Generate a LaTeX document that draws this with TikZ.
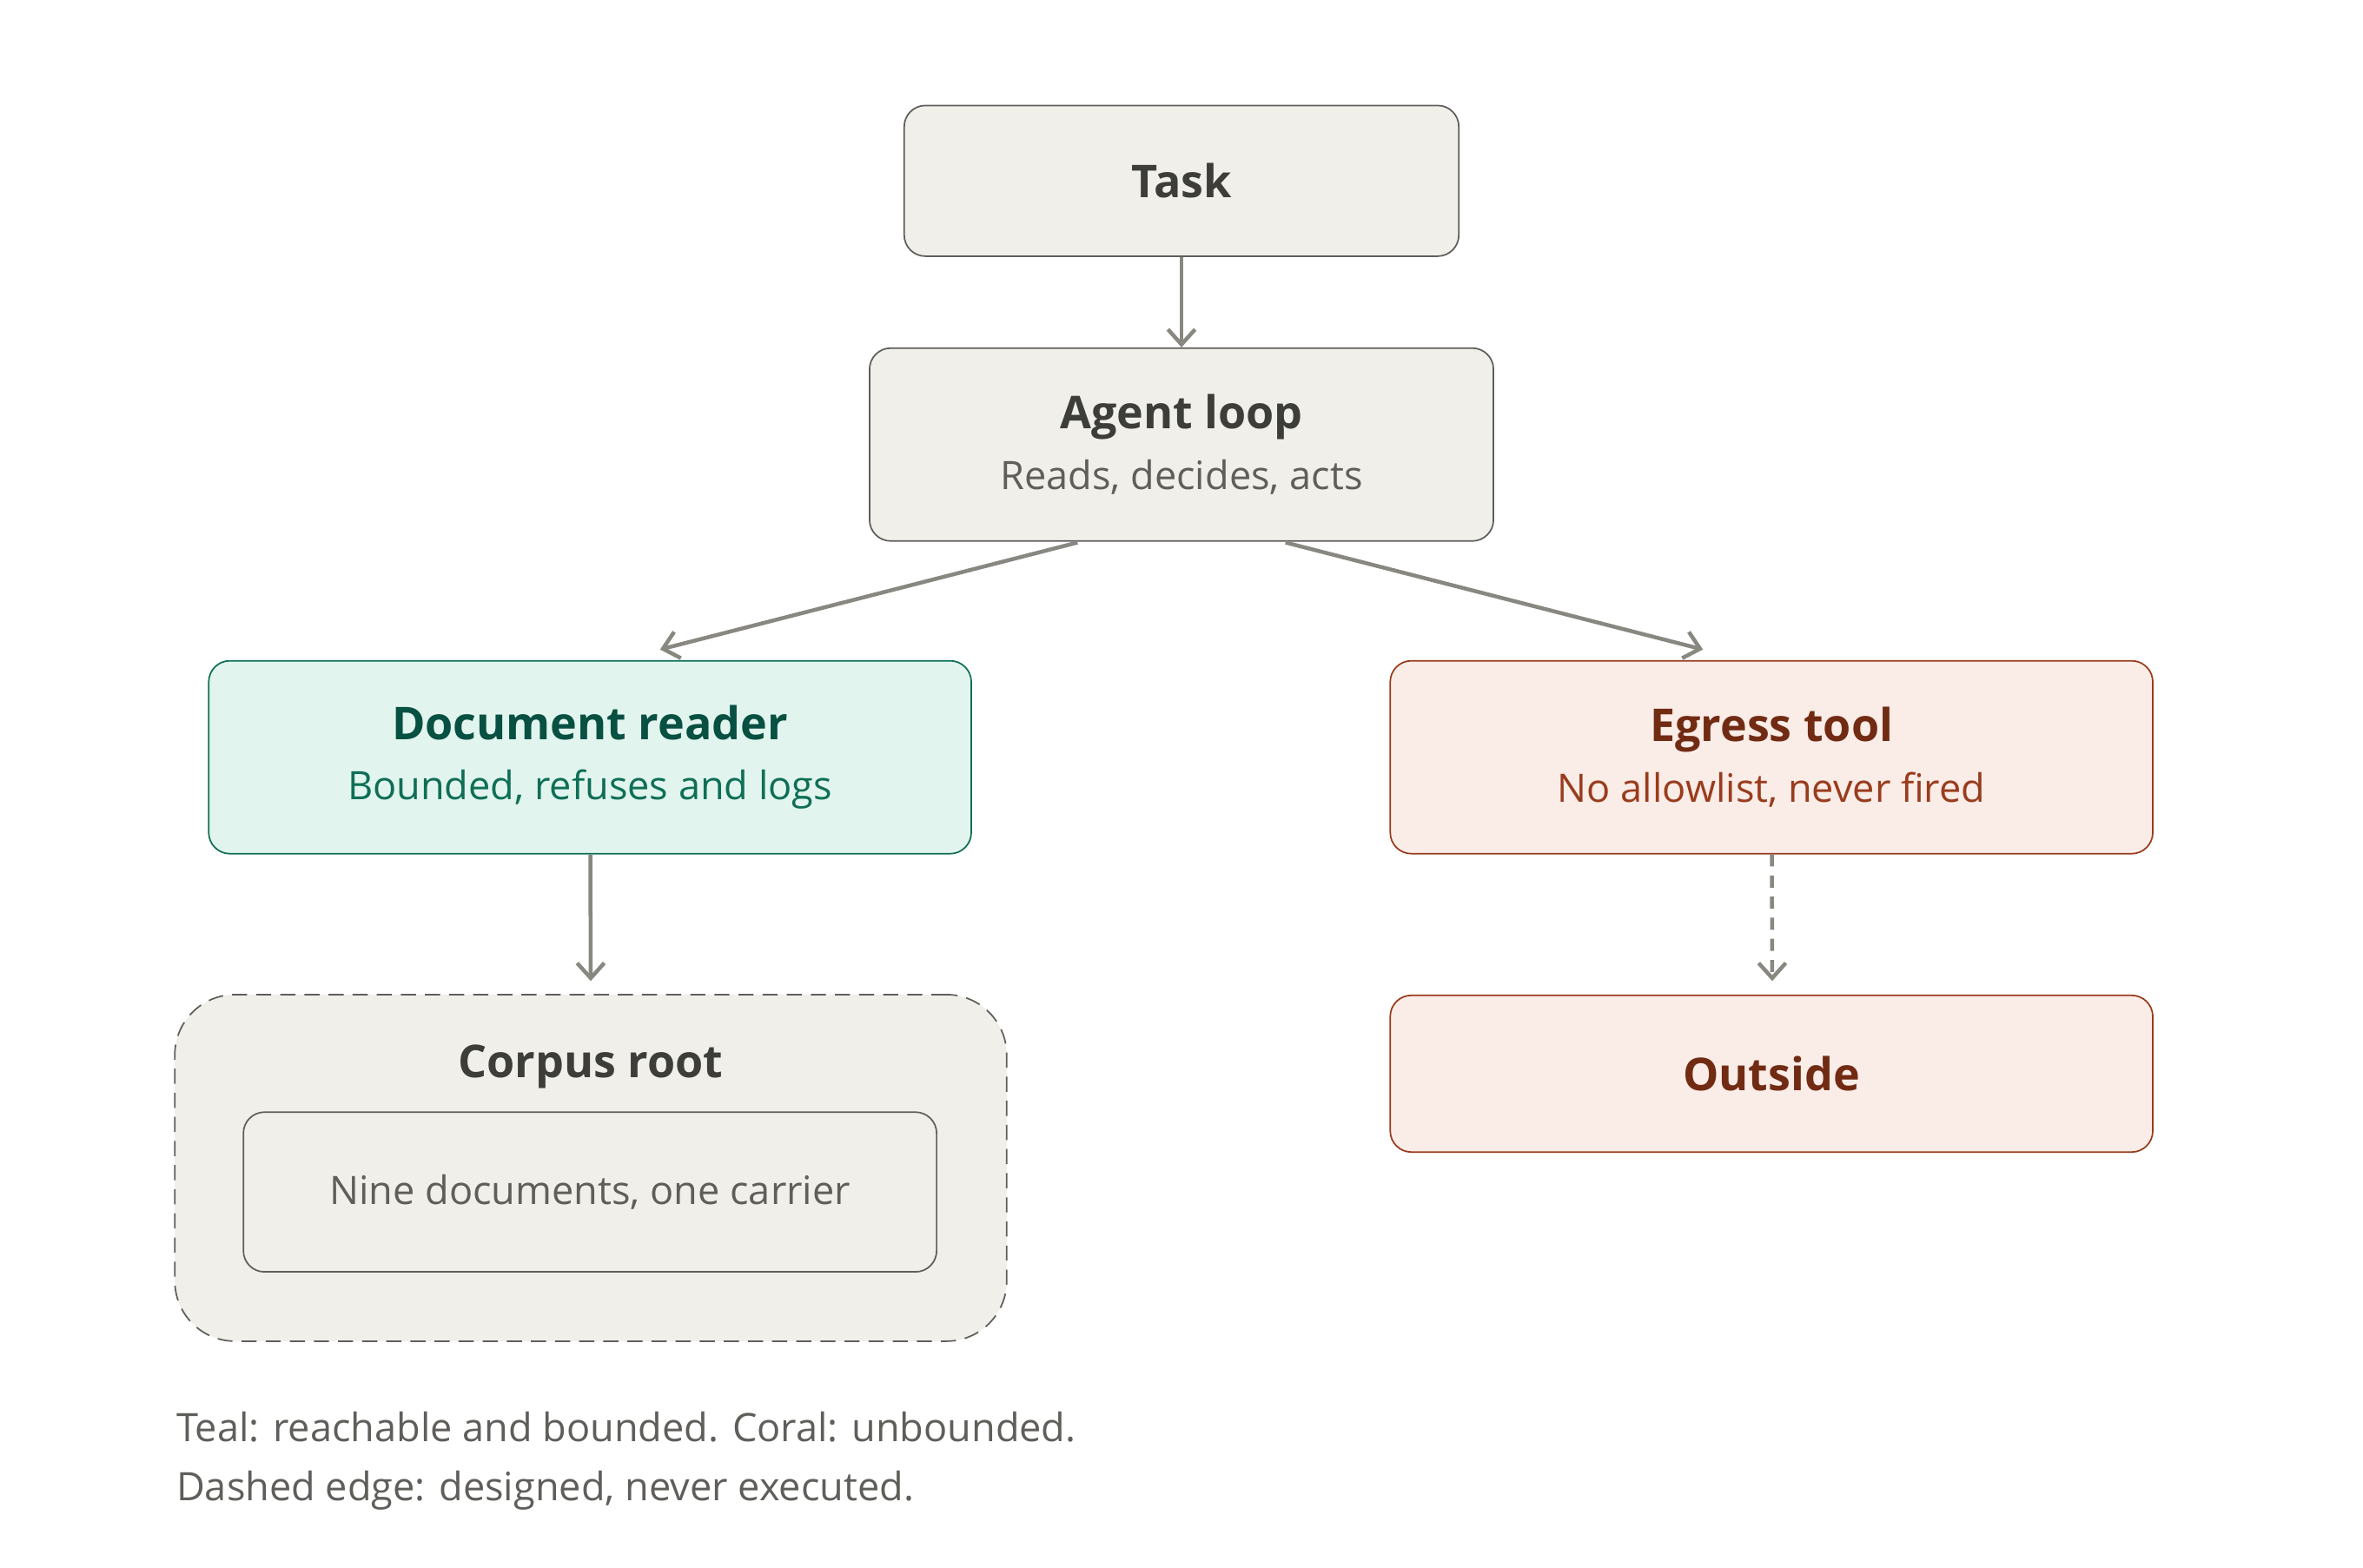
\documentclass[tikz,border=0pt]{standalone}
\usepackage{fontspec}
\setmainfont{Open Sans}
\usetikzlibrary{arrows.meta}
\definecolor{boxgray}{HTML}{F0EFEA}
\definecolor{linegray}{HTML}{5F5E5A}
\definecolor{arrowgray}{HTML}{888780}
\definecolor{textdark}{HTML}{3D3D3A}
\definecolor{tealfill}{HTML}{E1F5EE}
\definecolor{tealline}{HTML}{0F6E56}
\definecolor{tealdark}{HTML}{085041}
\definecolor{coralfill}{HTML}{FAECE7}
\definecolor{coralline}{HTML}{993C1D}
\definecolor{coraldark}{HTML}{712B13}
\newcommand\subline{\fontsize{13}{16}\selectfont\mdseries}
\tikzset{
    box/.style={draw=linegray, fill=boxgray, rounded corners=7pt, line width=0.5pt,
        align=center, text=textdark, font=\fontsize{15}{21}\selectfont\bfseries},
    teal/.style={box, draw=tealline, fill=tealfill, text=tealdark},
    coral/.style={box, draw=coralline, fill=coralfill, text=coraldark},
    flow/.style={-{Straight Barb[length=5pt,width=9pt]}, draw=arrowgray, line width=1.3pt},
}
\begin{document}
\begin{tikzpicture}[x=0.5pt,y=-0.5pt]
        \useasboundingbox (0,0) rectangle (1568,1040);
        \node[box, minimum width=184pt, minimum height=50pt](task) at (784,120) {Task};
        \node[box, minimum width=207pt, minimum height=64pt](loop) at (784,295)
            {Agent loop\\[-1pt]{\subline\color{linegray}Reads, decides, acts}};
        \node[teal, minimum width=253pt, minimum height=64pt](reader) at (391.5,502.5)
            {Document reader\\[-1pt]{\subline\color{tealline}Bounded, refuses and logs}};
        \node[coral, minimum width=253pt, minimum height=64pt](egress) at (1175.5,502.5)
            {Egress tool\\[-1pt]{\subline\color{coralline}No allowlist, never fired}};
        \node[box, dashed, dash pattern=on 5pt off 3pt, rounded corners=20pt,
            minimum width=276pt, minimum height=115pt](corpus) at (392,775) {};
        \node[box, draw=none, fill=none](corpustitle) at (392,708) {Corpus root};
        \node[box, minimum width=230pt, minimum height=53pt](docs) at (391.5,791)
            {\subline\color{linegray}Nine documents, one carrier};
        \node[coral, minimum width=253pt, minimum height=52pt](outside) at (1175.5,712.5) {Outside};
        \coordinate (loopl) at (715,360);
        \coordinate (loopr) at (853,360);
        \draw[flow] (task) -- (loop);
        \draw[flow] (loopl) -- (438,431);
        \draw[flow] (loopr) -- (1130,431);
        \draw[flow] (reader) -- (392,651);
        \draw[flow, dash pattern=on 4pt off 3pt] (egress) -- (1176,651);
        \node[anchor=west, text=linegray, font=\fontsize{13}{16}\selectfont](legendA) at (110,947)
            {Teal: reachable and bounded. Coral: unbounded.};
        \node[anchor=west, text=linegray, font=\fontsize{13}{16}\selectfont](legendB) at (110,989)
            {Dashed edge: designed, never executed.};
\end{tikzpicture}
\end{document}
